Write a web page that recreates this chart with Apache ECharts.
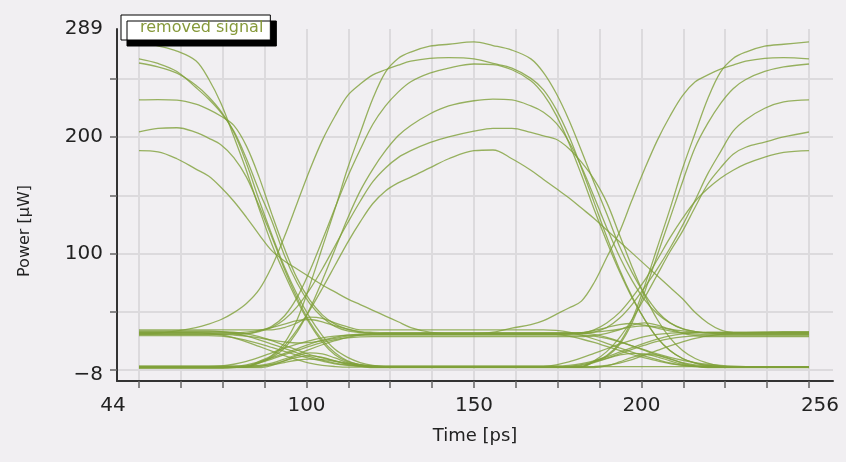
<!DOCTYPE html>
<html>
<head>
<meta charset="utf-8">
<title>removed signal</title>
<script src="https://cdn.jsdelivr.net/npm/echarts@6/dist/echarts.min.js"></script>
<style>
html, body { margin: 0; padding: 0; background: #f1eff2; }
#chart { width: 846px; height: 462px; }
</style>
</head>
<body>
<div id="chart"></div>
<script>
// common time grid for every trace [ps]
const timePs = [44, 50, 56, 62, 66, 70, 74, 78, 82, 86, 90, 94, 98, 102, 106, 110, 114, 118, 122, 126, 130, 136, 142,
  150, 156, 162, 168, 172, 176, 180, 184, 188, 192, 196, 200, 204, 208, 212, 216, 220, 224, 228, 232, 236, 242, 248, 256];

// traces high in the first and last bit [uW]
const traceA1 = [277.7, 274.3, 269.8, 261.3, 245.7, 223.9, 195.3, 165.6, 132.7, 101.8, 76.1, 52.6, 32.4, 16.3, 5.3, -0.7, -3.2, -4.6, -5.5, -5.5, -5.5, -5.5, -5.5,
  -5.5, -5.5, -5.5, -5.5, -5.5, -5.5, -5.5, -5.2, -0.4, 4.7, 15.5, 35.6, 65.3, 98.7, 132.1, 167.5, 198.4, 228.4, 251.4, 263.3, 268.9, 274, 275.7, 277.7];
const traceA2 = [263, 259, 252, 238, 228, 216, 200, 176, 148, 122, 92, 68, 50, 38, 30, 26, 24.5, 23.8, 23.5, 23.5, 23.5, 23.5, 23.5,
  23.5, 25, 28.5, 31.5, 35, 40.5, 46, 52, 68, 90, 112, 140, 167, 192, 213, 231, 243, 249, 254, 257.5, 261, 263.5, 264, 263];
const traceA3 = [259.4, 256, 250.5, 240, 230, 217, 199, 172, 140, 110, 82, 58, 38, 22, 10, 3, -1.5, -4, -5.2, -5.5, -5.5, -5.5, -5.5,
  -5.5, -5.5, -5.5, -5.5, -5.5, -5.5, -5.5, -5.3, -1, 4, 14, 33, 60, 92, 124, 156, 186, 207, 224, 237, 245, 252, 256, 258.5];
const traceA4 = [227.2, 227.5, 227, 223.5, 219, 213, 205, 187, 160, 128, 98, 72, 53, 40, 32, 27.5, 25, 24, 23.5, 23.5, 23.5, 23.5, 23.5,
  23.5, 23.5, 23.5, 23.5, 23.5, 23.5, 23.5, 23.5, 25, 29, 37, 49, 64, 80, 98, 118, 140, 163, 182, 200, 210, 220, 225.5, 227.2];
const traceA5 = [199.5, 202.5, 203, 199, 194, 188, 177, 160, 135, 108, 80, 55, 34, 18, 7, 0, -3.5, -5, -5.5, -5.5, -5.5, -5.5, -5.5,
  -5.5, -5.5, -5.5, -5.5, -5.5, -5.5, -5.5, -5, 0, 8, 20, 36, 55, 75, 95, 113, 134, 154, 168, 180, 186, 190.5, 195, 199.3];
const traceA6 = [183, 182, 176, 167, 161, 151, 139, 125, 110, 96, 87, 80, 73, 66, 60, 54, 49, 44, 39, 34, 29, 25, 23.5,
  23.5, 23.5, 23.5, 23.5, 23.5, 23.5, 23.5, 24, 27, 33, 42, 55, 70, 88, 107, 124, 139, 150, 159, 166, 171.5, 177.5, 181.5, 183];

// traces high in the middle bit
const traceB1 = [-5.5, -5.5, -5.5, -5.5, -5.5, -5.5, -5.5, -5.2, -0.4, 4.7, 15.5, 35.6, 65.3, 98.7, 132.1, 167.5, 198.4, 228.4, 251.4, 263.3, 268.9, 274, 275.7,
  277.7, 274.6, 270.6, 263, 251, 233, 210, 183, 155, 128, 100, 77, 58, 43, 33.2, 27.8, 25.5, 24.3, 23.5, 23.5, 23.5, 23.5, 23.5, 23.5];
const traceB2 = [23.5, 24, 26, 29, 32, 36, 42, 50, 62, 82, 108, 137, 166, 192, 213, 231, 241, 249, 253.5, 257.5, 261, 263.5, 264,
  263, 259, 255, 246, 236, 219, 196, 168, 138, 108, 80, 56, 36, 20, 9, 2, -2, -4, -5, -5.5, -5.5, -5.5, -5.5, -5.5];
const traceB3 = [23.5, 23.5, 23.5, 23.5, 23.5, 23.5, 23.5, 23.7, 26, 30, 39, 55, 78, 105, 133, 160, 184, 206, 222, 234, 243, 250.5, 255,
  258.5, 258, 253.5, 244, 232, 214, 190, 162, 132, 104, 78, 55, 36, 20, 9, 2, -2, -4, -5, -5.5, -5.5, -5.5, -5.5, -5.5];
const traceB4 = [-5.5, -5.5, -5.5, -5.5, -5.5, -5.5, -5.5, -5.3, -2, 3, 11, 25, 45, 70, 97, 124, 148, 167, 183, 196, 205, 215, 222,
  226.5, 228, 227.2, 222, 216.5, 207, 191, 169, 143, 116, 91, 70, 53, 41, 33, 28, 25.5, 24.3, 23.7, 23.5, 23.5, 23.5, 23.5, 23.5];
const traceB5 = [23.5, 23.5, 23.5, 23.5, 23.5, 23.5, 23.5, 23.7, 25.5, 29, 36, 47, 62, 80, 100, 120, 139, 156, 168, 177, 183, 190, 195,
  200, 202.5, 202.5, 199, 196, 193, 185, 173, 158, 138, 110, 82, 57, 36, 20, 9, 2, -2, -4.5, -5.5, -5.5, -5.5, -5.5, -5.5];
const traceB6 = [-5.5, -5.5, -5.5, -5.5, -5.5, -5.5, -5.5, -5, -1.5, 4, 13, 27, 44, 63, 83, 103, 121, 137, 148, 155, 160, 168, 176,
  183, 183.6, 176, 166, 158, 150, 142, 133, 124, 114, 104, 94, 84, 74, 64, 54, 42, 33, 27, 24.5, 23.5, 23.5, 23.5, 23.5];

// low traces (crosstalk between the two zero levels)
const traceC1 = [24.5, 24.5, 24.5, 24.5, 24.5, 24.5, 24.5, 25, 26.5, 29, 32, 35, 36, 34, 30.5, 27.5, 25.5, 24.8, 24.5, 24.5, 24.5, 24.5, 24.5,
  24.5, 24.5, 24.5, 24.5, 24.5, 24.5, 24.5, 24.5, 25, 26, 27.5, 29.5, 30.5, 29.5, 27.5, 26, 25, 24.5, 24.5, 24.5, 24.5, 24.5, 24.5, 24.5];
const traceC2 = [-5.5, -5.5, -5.5, -5.5, -5.5, -5.5, -5, -3.5, -1, 2.5, 6.5, 10.5, 14.5, 18, 20.5, 22.3, 23.2, 23.5, 23.5, 23.5, 23.5, 23.5, 23.5,
  23.5, 23.5, 23.5, 23.5, 23.5, 23, 21.5, 19, 16, 12.5, 9, 5.5, 2.5, 0, -2.5, -4, -5, -5.5, -5.5, -5.5, -5.5, -5.5, -5.5, -5.5];
const traceC3 = [22, 22, 22, 22, 22, 21.6, 20.2, 17.8, 15, 11.6, 8.3, 5, 2.2, -0.2, -2.6, -4, -4.8, -5.2, -5.2, -5.2, -5.2, -5.2, -5.2,
  -5.2, -5.2, -5.2, -5.2, -5.2, -5.2, -4.8, -3.4, -1, 2.3, 6.1, 9.9, 13.6, 16.9, 19.3, 20.9, 21.7, 22, 22, 22, 22, 22, 22, 22];
const traceC4 = [-6, -6, -6, -6, -6, -6, -6, -6, -6, -4, 0, 4.5, 7, 6, 2.5, -1.5, -4.5, -6, -6, -6, -6, -6, -6,
  -6, -6, -6, -6, -6, -6, -6, -6, -6, -4.5, -1, 3, 5.5, 5, 2, -2, -4.5, -6, -6, -6, -6, -6, -6, -6];
const traceC5 = [26, 26, 26, 26, 26, 25.5, 24, 21.5, 18.3, 14.6, 10.8, 7, 3.6, 0.6, -2, -3.6, -4.5, -5, -5, -5, -5, -5, -5,
  -5, -5, -5, -5, -5, -5, -5, -5, -5, -5, -5, -5, -5, -5, -5, -5, -5, -5, -5, -5, -5, -5, -5, -5];
const traceC6 = [-6.5, -6.5, -6.5, -6.5, -6.5, -6.5, -6, -4.3, -1.8, 1.5, 5.3, 9, 12.7, 16, 18.5, 20, 20.8, 21, 21, 21, 21, 21, 21,
  21, 21, 21, 21, 21, 21, 21, 21, 22, 24, 27, 31, 33, 31, 27.5, 24, 22, 21, 21, 21, 21, 21, 21, 21];
const traceC7 = [-4.5, -4.5, -4.5, -4.5, -4.5, -4.5, -4.5, -4.5, -4.5, -3, 0, 3, 4.5, 3, 0, -3, -4.5, -4.5, -4.5, -4.5, -4.5, -4.5, -4.5,
  -4.5, -4.5, -4.5, -4.5, -4.5, -4.5, -4, -2.5, 0, 3.5, 7.5, 11.5, 15.5, 19, 21.8, 23.5, 24.5, 25, 25, 25, 25, 25, 25, 25];
const traceC8 = [27, 27, 27, 27, 27, 27, 27, 27, 27, 27, 29, 33, 38, 37, 33, 29.5, 27, 27, 27, 27, 27, 27, 27,
  27, 27, 27, 27, 27, 26.5, 25, 22.3, 19, 15.2, 11.3, 7.5, 4, 1, -1.8, -3.7, -4.9, -5.4, -5.5, -5.5, -5.5, -5.5, -5.5, -5.5];
const traceC9 = [-5, -5, -5, -5, -5, -5, -5, -5, -4, -2, 1.5, 5.5, 10, 14, 17.5, 20.5, 22.5, 23.5, 24, 24, 24, 24, 24,
  24, 24, 24, 24, 24, 24, 24, 24, 23, 20.5, 17, 13, 9, 5, 1.5, -1.5, -3.5, -4.5, -5, -5, -5, -5, -5, -5];
const traceC10 = [24.5, 24.5, 24.5, 24.5, 24, 22.5, 20, 16.5, 12.5, 8.5, 4.5, 1, -2, -4, -5, -5.5, -5.5, -5.5, -5.5, -5.5, -5.5, -5.5, -5.5,
  -5.5, -5.5, -5.5, -5.5, -5, -3.5, -1, 2.5, 6.5, 10.5, 14.5, 18, 21, 23, 24, 24.5, 24.5, 24.5, 24.5, 24.5, 24.5, 24.5, 24.5, 24.5];
const traceC11 = [23, 23, 23, 23, 23, 23, 22.5, 21.5, 20, 18, 16.5, 15.5, 16, 17.5, 19.5, 21.5, 22.5, 23, 23, 23, 23, 23, 23,
  23, 23, 23, 23, 23, 23, 23.5, 24.5, 26.5, 29, 31.5, 32.5, 31, 28.5, 26, 24.2, 23.3, 23, 23, 23, 23, 23, 23, 23];
const traceC12 = [-5, -5, -5, -5, -5, -4.5, -3, -0.5, 3, 7, 11, 14.5, 17.5, 20, 21.5, 22.3, 22.5, 22.5, 22.5, 22.5, 22.5, 22.5, 22.5,
  22.5, 22.5, 22.5, 22.5, 22.5, 22.5, 22.5, 22.3, 21.5, 19.5, 16.5, 13, 9.5, 6, 3, 0.5, -1.5, -3, -4, -4.7, -5, -5, -5, -5];
const traceC13 = [25.5, 25.5, 25.5, 25.5, 25.5, 25.5, 25, 23.5, 21, 17.5, 13.5, 9.5, 5.5, 2.5, 0, -2, -3.5, -4.5, -5, -5, -5, -5, -5,
  -5, -5, -5, -5, -5, -5, -5, -4, -1.5, 2, 5, 6.5, 6, 3.5, 0, -3, -4.5, -5, -5, -5, -5, -5, -5, -5];
const traceC14 = [-5.5, -5.5, -5.5, -5.5, -5.5, -5.5, -5.5, -5.5, -5, -3.5, -1.5, 0.5, 1.5, 1, -0.5, -2.5, -4, -5, -5.5, -5.5, -5.5, -5.5, -5.5,
  -5.5, -5.5, -5.5, -5.5, -5.5, -5.5, -5.5, -5.5, -5, -4, -2, 1, 5, 9, 13, 16.5, 19.5, 21.5, 23, 24, 24.5, 25, 25.5, 25.5];

// axis ticks and labels
const xTickValues = [44, 57.25, 70.5, 83.75, 97, 110.25, 123.5, 136.75, 150, 163.25, 176.5, 189.75, 203, 216.25, 229.5, 242.75, 256];
const xLabelValues = [44, 97, 150, 203, 256];
const xLabelTexts = ['44', '100', '150', '200', '256'];
const yTickValues = [-8, 42.69, 93.38, 144.07, 194.76, 245.45];
const yLabelValues = [-8, 93.38, 194.76, 289];
const yLabelTexts = ['\u22128', '100', '200', '289'];

const lineColor = '#80a03a';
const allTraces = [traceC1, traceC2, traceC3, traceC4, traceC5, traceC6, traceC7, traceC8, traceC9, traceC10,
  traceC11, traceC12, traceC13, traceC14,
  traceA1, traceA2, traceA3, traceA4, traceA5, traceA6, traceB1, traceB2, traceB3, traceB4, traceB5, traceB6];

const chart = echarts.init(document.getElementById('chart'), null, { renderer: 'canvas' });

const tickFont = { fontFamily: 'DejaVu Sans', fontSize: 20, color: '#222' };

chart.setOption({
  backgroundColor: '#f1eff2',
  animation: false,
  textStyle: { fontFamily: 'DejaVu Sans' },
  legend: {
    data: [{ name: 'removed signal', icon: 'rect', itemStyle: { opacity: 0 } }],
    left: 121,
    top: 15,
    padding: [5, 7, 4, 4],
    itemWidth: 10,
    itemHeight: 4,
    selectedMode: false,
    backgroundColor: '#ffffff',
    borderColor: '#000000',
    borderWidth: 1,
    shadowColor: '#000000',
    shadowBlur: 0,
    shadowOffsetX: 6,
    shadowOffsetY: 6,
    textStyle: { color: '#86993a', fontSize: 16, fontFamily: 'DejaVu Sans' }
  },
  grid: { left: 117, right: 13, top: 29, bottom: 81, containLabel: false, outerBoundsMode: 'none' },
  xAxis: {
    type: 'value',
    min: 37.04,
    max: 263.6,
    name: 'Time [ps]',
    nameLocation: 'middle',
    nameGap: 46,
    nameTextStyle: { fontFamily: 'DejaVu Sans', fontSize: 18, color: '#222' },
    axisLine: { show: true, onZero: false, lineStyle: { color: '#333', width: 2 } },
    axisTick: { show: true, length: 7, customValues: xTickValues, lineStyle: { color: '#666', width: 1.5 } },
    axisLabel: {
      customValues: xLabelValues,
      margin: 15,
      ...tickFont,
      formatter: function (v) {
        const i = xLabelValues.indexOf(v);
        const s = i >= 0 ? xLabelTexts[i] : '';
        if (i === 0) return '{l|' + s + '}';
        if (i === xLabelValues.length - 1) return '{r|' + s + '}';
        return s;
      },
      rich: {
        l: { ...tickFont, padding: [0, 52, 0, 0] },
        r: { ...tickFont, padding: [0, 0, 0, 22] }
      }
    },
    splitLine: { show: true, lineStyle: { color: '#dcdadd', width: 2 } }
  },
  yAxis: {
    type: 'value',
    min: -17.58,
    max: 289,
    name: 'Power [\u00b5W]',
    nameLocation: 'middle',
    nameGap: 84,
    nameTextStyle: { fontFamily: 'DejaVu Sans', fontSize: 16, color: '#222', padding: [0, 52, 0, 0] },
    axisLine: { show: true, onZero: false, lineStyle: { color: '#333', width: 2 } },
    axisTick: { show: true, length: 7, customValues: yTickValues, lineStyle: { color: '#666', width: 1.5 } },
    axisLabel: {
      customValues: yLabelValues,
      margin: 14,
      ...tickFont,
      formatter: function (v) {
        const i = yLabelValues.indexOf(v);
        const s = i >= 0 ? yLabelTexts[i] : '';
        if (i === 0) return '{d|' + s + '}';
        return s;
      },
      rich: {
        d: { ...tickFont, padding: [10, 0, 0, 0] }
      }
    },
    splitLine: { show: true, lineStyle: { color: '#dcdadd', width: 2 } }
  },
  series: allTraces.map(function (vals) {
    return {
      name: 'removed signal',
      type: 'line',
      data: timePs.map(function (t, i) { return [t, vals[i]]; }),
      showSymbol: false,
      smooth: 0.35,
      silent: true,
      itemStyle: { color: lineColor },
      lineStyle: { color: lineColor, width: 1.3, opacity: 0.8 }
    };
  })
});
</script>
</body>
</html>
